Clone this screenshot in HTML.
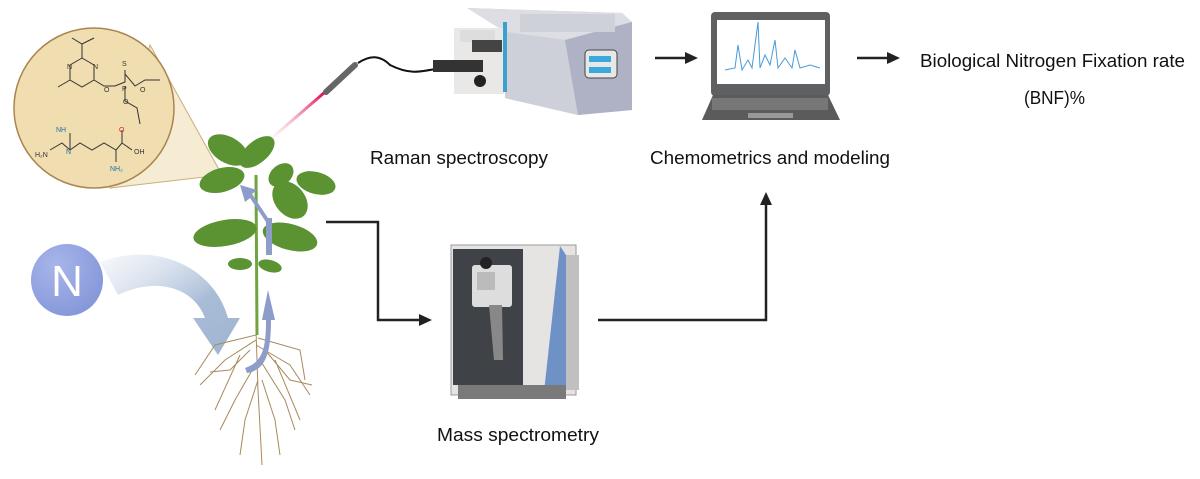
<!DOCTYPE html>
<html><head><meta charset="utf-8"><style>
html,body{margin:0;padding:0;background:#fff;}
svg{display:block;font-family:"Liberation Sans",sans-serif;}
</style></head><body>
<svg width="1200" height="479" viewBox="0 0 1200 479" xmlns="http://www.w3.org/2000/svg">
<defs>
<linearGradient id="arr" x1="0" y1="0" x2="1" y2="1">
<stop offset="0" stop-color="#dfe7f2" stop-opacity="0.3"/><stop offset="0.6" stop-color="#a9bcd6"/><stop offset="1" stop-color="#9fb4d2"/></linearGradient>
<linearGradient id="laser" x1="1" y1="0" x2="0" y2="1"><stop offset="0" stop-color="#e0004a"/><stop offset="1" stop-color="#ffdde0" stop-opacity="0.3"/></linearGradient>
<radialGradient id="nb" cx="0.35" cy="0.3" r="0.8"><stop offset="0" stop-color="#a7b5ea"/><stop offset="1" stop-color="#8395d8"/></radialGradient>
</defs>
<!-- magnifier cone -->
<polygon points="150,45 222,175 110,188" fill="#f6ecd4" stroke="#c9ad7c" stroke-width="1"/>
<circle cx="94" cy="108" r="80" fill="#f0ddb0" stroke="#a98550" stroke-width="1.5"/>
<g stroke="#333" stroke-width="1" fill="none">
<path d="M72,38 L82,44 L94,38 M82,44 L82,58 L94,65 L94,80 L82,87 L70,80 L70,65 L82,58 M70,80 L58,87 M94,80 L104,86 L115,86 L125,82 L125,70 M125,74 L135,86 L145,80 L160,80 M125,86 L125,101 L137,108 L140,124"/>
<path d="M50,150 L62,143 L70,150 L80,143 L92,150 L104,143 L116,150 L122,143 L132,150 M70,150 L70,133 M116,150 L116,162 M122,143 L122,130"/>
</g>
<g font-size="7" fill="#333"><text x="67" y="69">N</text><text x="93" y="69">N</text><text x="122" y="66">S</text><text x="122" y="91">P</text><text x="104" y="92">O</text><text x="140" y="92">O</text><text x="123" y="104">O</text><text x="35" y="157">H₂N</text><text x="56" y="132" fill="#1a6fb0">NH</text><text x="66" y="154" fill="#1a6fb0">N</text><text x="134" y="154">OH</text><text x="119" y="132" fill="#d22">O</text><text x="110" y="171" fill="#1a6fb0">NH₂</text></g>
<!-- N arrow -->
<path d="M100,262 C160,240 215,270 228,318 L240,318 L218,355 L193,318 L205,318 C195,290 160,275 118,295 Z" fill="url(#arr)"/>
<circle cx="67" cy="280" r="36" fill="url(#nb)"/>
<text x="67" y="296" font-size="44" fill="#fff" text-anchor="middle">N</text>
<!-- roots -->
<g stroke="#a88a5c" stroke-width="1" fill="none">
<path d="M256,330 L258,390 L262,465 M256,340 L225,360 L200,385 M256,345 L290,365 L310,395 M258,360 L235,400 L220,430 M260,360 L285,400 L295,430 M258,380 L245,420 L240,455 M262,380 L275,420 L280,455 M256,335 L215,345 L195,375 M258,338 L300,350 L305,380 M240,355 L215,410 M275,360 L300,420 M250,350 L230,370 L210,372 M265,350 L290,380 L312,385"/>
</g>
<!-- stem -->
<path d="M256,175 L257,335" stroke="#6ea540" stroke-width="3" fill="none"/>
<g fill="#5b9232">
<ellipse cx="228" cy="150" rx="22" ry="13" transform="rotate(30 228 150)"/>
<ellipse cx="257" cy="152" rx="21" ry="11" transform="rotate(-40 257 152)"/>
<ellipse cx="222" cy="180" rx="23" ry="12" transform="rotate(-15 222 180)"/>
<ellipse cx="281" cy="175" rx="14" ry="10" transform="rotate(-40 281 175)"/>
<ellipse cx="316" cy="183" rx="20" ry="11" transform="rotate(15 316 183)"/>
<ellipse cx="290" cy="200" rx="21" ry="15" transform="rotate(50 290 200)"/>
<ellipse cx="225" cy="233" rx="32" ry="13" transform="rotate(-10 225 233)"/>
<ellipse cx="290" cy="237" rx="28" ry="13" transform="rotate(15 290 237)"/>
<ellipse cx="240" cy="264" rx="12" ry="6"/>
<ellipse cx="270" cy="266" rx="12" ry="6" transform="rotate(15 270 266)"/>
</g>
<g fill="#8d9cc9">
<path d="M266,255 L266,222 L250,198 L245,202 L240,185 L257,190 L252,194 L268,218 L272,218 L272,255 Z"/>
<path d="M245,368 C262,362 266,350 266,320 L262,320 L268,290 L275,320 L271,320 C271,355 265,370 247,373 Z"/>
</g>
<!-- laser and probe -->
<path d="M325,92 L272,138" stroke="url(#laser)" stroke-width="3"/>
<path d="M326,92 L355,65" stroke="#666" stroke-width="6" stroke-linecap="round"/>
<path d="M358,63 C370,55 380,55 390,65 C410,75 420,72 440,68" stroke="#111" stroke-width="2" fill="none"/>
<!-- Raman instrument -->
<polygon points="467,8 622,13 632,22 632,110 578,115 505,98 505,30" fill="#c4c7d2"/>
<polygon points="467,8 622,13 632,22 565,40 505,32" fill="#dddee3"/>
<polygon points="505,32 565,40 578,115 505,98" fill="#cdd0d9"/>
<polygon points="565,40 632,22 632,110 578,115" fill="#aeb2c4"/>
<rect x="520" y="14" width="95" height="18" fill="#cfd1d8"/>
<rect x="585" y="50" width="32" height="28" rx="4" fill="#e6e7e9" stroke="#444"/>
<rect x="589" y="56" width="22" height="6" fill="#3aa8d8"/>
<rect x="589" y="67" width="22" height="6" fill="#3aa8d8"/>
<rect x="454" y="28" width="50" height="66" fill="#eae8e6"/>
<rect x="460" y="30" width="35" height="12" fill="#ddd"/>
<rect x="472" y="40" width="30" height="12" fill="#444"/>
<rect x="433" y="60" width="50" height="12" fill="#333"/>
<circle cx="480" cy="81" r="6" fill="#222"/>
<rect x="503" y="22" width="4" height="70" fill="#3aa0d0"/>
<!-- arrows -->
<g stroke="#222" stroke-width="2.5" fill="none">
<path d="M655,58 L688,58"/><path d="M857,58 L890,58"/>
<path d="M326,222 L378,222 L378,320 L422,320"/>
<path d="M598,320 L766,320 L766,202"/>
</g>
<g fill="#222">
<polygon points="698,58 685,52 685,64"/><polygon points="900,58 887,52 887,64"/>
<polygon points="432,320 419,314 419,326"/><polygon points="766,192 760,205 772,205"/>
</g>
<!-- laptop -->
<rect x="711" y="12" width="119" height="84" rx="4" fill="#5f6062"/>
<rect x="717" y="20" width="108" height="64" fill="#fff"/>
<path d="M725,70 L735,68 L738,45 L742,70 L748,60 L752,68 L758,22 L760,68 L765,55 L770,65 L775,40 L778,68 L785,58 L792,68 L795,50 L800,68 L810,65 L820,68" stroke="#4a9ad8" stroke-width="1" fill="none"/>
<polygon points="713,95 828,95 840,120 702,120" fill="#5a5b5d"/>
<rect x="712" y="98" width="116" height="12" fill="#777"/>
<rect x="748" y="113" width="45" height="5" fill="#999"/>
<!-- MS instrument -->
<rect x="451" y="245" width="125" height="150" fill="#e6e4e2" stroke="#999"/>
<rect x="453" y="249" width="70" height="136" fill="#3f4347"/>
<rect x="472" y="265" width="40" height="42" rx="3" fill="#ddd"/>
<rect x="477" y="272" width="18" height="18" fill="#bbb"/>
<polygon points="489,305 502,305 503,360 494,360" fill="#888"/>
<circle cx="486" cy="263" r="6" fill="#222"/>
<polygon points="560,246 566,255 566,390 544,392" fill="#6f92c6"/>
<rect x="566" y="255" width="13" height="135" fill="#c0c0c0"/>
<rect x="458" y="385" width="108" height="14" fill="#7a7a7a"/>
<!-- labels -->
<g font-size="18.5" fill="#111">
<text x="370" y="164" textLength="178" lengthAdjust="spacingAndGlyphs">Raman spectroscopy</text>
<text x="650" y="164" textLength="240" lengthAdjust="spacingAndGlyphs">Chemometrics and modeling</text>
<text x="437" y="441" textLength="162" lengthAdjust="spacingAndGlyphs">Mass spectrometry</text>
<text x="920" y="67" textLength="265" lengthAdjust="spacingAndGlyphs">Biological Nitrogen Fixation rate</text>
<text x="1024" y="104" textLength="61" lengthAdjust="spacingAndGlyphs">(BNF)%</text>
</g>
</svg>
</body></html>
